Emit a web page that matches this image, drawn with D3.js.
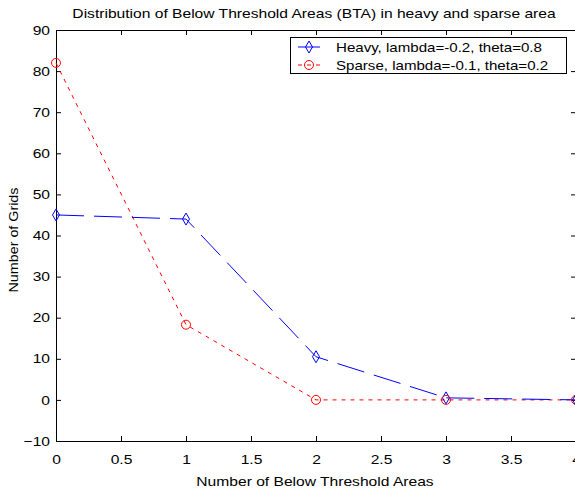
<!DOCTYPE html>
<html>
<head>
<meta charset="utf-8">
<script src="https://cdn.jsdelivr.net/npm/d3@7/dist/d3.min.js"></script>
<style>
  body { margin: 0; background: #fff; }
  svg { display: block; }
  text { font-family: "Liberation Sans", Arial, sans-serif; fill: #000; }
</style>
</head>
<body>
<svg id="chart" width="575" height="488"></svg>
<script>
// ---- data ----
const xValues = [0, 1, 2, 3, 4];
const heavyValues = [45, 44, 10.5, 0.5, 0];
const sparseValues = [82, 18.3, 0, 0, 0];
const xTicks = [0, 0.5, 1, 1.5, 2, 2.5, 3, 3.5, 4];
const yTicks = [-10, 0, 10, 20, 30, 40, 50, 60, 70, 80, 90];
const seriesNames = ["Heavy, lambda=-0.2, theta=0.8", "Sparse, lambda=-0.1, theta=0.2"];
const titleText = "Distribution of Below Threshold Areas (BTA) in heavy and sparse area";
const xLabelText = "Number of Below Threshold Areas";
const yLabelText = "Number of Grids";

const svg = d3.select("#chart");
const L = 56, R = 576, T = 30, B = 441;
const x = d3.scaleLinear().domain([0, 4]).range([L, R]);
const y = d3.scaleLinear().domain([-10, 90]).range([B, T]);
const fs = 13;
const stretch = 1.2;

// axes (ticks inward)
const tickLen = 5;
const gAx = svg.append("g");
gAx.append("g").attr("transform", `translate(0,${B})`)
  .call(d3.axisBottom(x).tickValues(xTicks).tickSizeInner(-tickLen).tickSizeOuter(0).tickPadding(14).tickFormat(d3.format("")));
gAx.append("g").attr("transform", `translate(0,${T})`)
  .call(d3.axisTop(x).tickValues(xTicks).tickSizeInner(-tickLen).tickSizeOuter(0).tickFormat(""));
gAx.append("g").attr("transform", `translate(${L},0)`)
  .call(d3.axisLeft(y).tickValues(yTicks).tickSizeInner(-tickLen).tickSizeOuter(0).tickPadding(6));
gAx.append("g").attr("transform", `translate(${R},0)`)
  .call(d3.axisRight(y).tickValues(yTicks).tickSizeInner(-tickLen).tickSizeOuter(0).tickFormat(""));
gAx.selectAll(".domain").attr("stroke", "#000").attr("stroke-width", 1);
gAx.selectAll(".tick line").attr("stroke", "#000");
gAx.selectAll("text").attr("font-size", fs).attr("font-family", '"Liberation Sans", Arial, sans-serif').attr("fill", "#000");

// lines
const line = d3.line().x((d, i) => x(xValues[i])).y(d => y(d));
svg.append("path").datum(sparseValues).attr("d", line)
  .attr("fill", "none").attr("stroke", "#ff0000").attr("stroke-width", 1).attr("stroke-dasharray", "4,5");
svg.append("path").datum(heavyValues).attr("d", line)
  .attr("fill", "none").attr("stroke", "#0000ff").attr("stroke-width", 1).attr("stroke-dasharray", "28,10");

// markers
function diamond(cx, cy) {
  return `M${cx},${cy - 6}L${cx + 3.5},${cy}L${cx},${cy + 6}L${cx - 3.5},${cy}Z`;
}
svg.append("g").selectAll("path").data(heavyValues).join("path")
  .attr("d", (d, i) => diamond(x(xValues[i]), y(d)))
  .attr("fill", "none").attr("stroke", "#0000ff").attr("stroke-width", 1);
svg.append("g").selectAll("circle").data(sparseValues).join("circle")
  .attr("cx", (d, i) => x(xValues[i])).attr("cy", d => y(d)).attr("r", 4.5)
  .attr("fill", "none").attr("stroke", "#ff0000").attr("stroke-width", 1);

// title & labels
svg.append("text").attr("x", 314).attr("y", 18).attr("text-anchor", "middle").attr("font-size", fs).text(titleText);
svg.append("text").attr("x", 315).attr("y", 486).attr("text-anchor", "middle").attr("font-size", fs).text(xLabelText);
svg.append("text").attr("class", "ylab").attr("transform", "translate(18,240) rotate(-90)").attr("text-anchor", "middle").attr("font-size", fs).text(yLabelText);

// legend
const lg = svg.append("g");
lg.append("rect").attr("x", 290.5).attr("y", 37.5).attr("width", 276).attr("height", 36)
  .attr("fill", "#fff").attr("stroke", "#000").attr("stroke-width", 1);
const colors = ["#0000ff", "#ff0000"];
const rowsY = [47, 65];
seriesNames.forEach((name, i) => {
  const yy = rowsY[i];
  lg.append("line").attr("x1", 298).attr("x2", 320).attr("y1", yy).attr("y2", yy)
    .attr("stroke", colors[i]).attr("stroke-width", 1).attr("stroke-dasharray", i === 0 ? null : "4,5");
  if (i === 0) lg.append("path").attr("d", diamond(309, yy)).attr("fill", "none").attr("stroke", colors[i]);
  else lg.append("circle").attr("cx", 309).attr("cy", yy).attr("r", 4.5).attr("fill", "none").attr("stroke", colors[i]);
  lg.append("text").attr("class", "lgt").attr("x", 336).attr("y", yy + 5).attr("font-size", fs).text(name);
});

// widen text to match the wider reference font
svg.selectAll("text").each(function () {
  const sel = d3.select(this);
  const k = sel.classed("ylab") ? 1.1 : sel.classed("lgt") ? 1.16 : stretch;
  const w = this.getComputedTextLength();
  if (w > 0) sel.attr("textLength", w * k).attr("lengthAdjust", "spacingAndGlyphs");
});
</script>
</body>
</html>
